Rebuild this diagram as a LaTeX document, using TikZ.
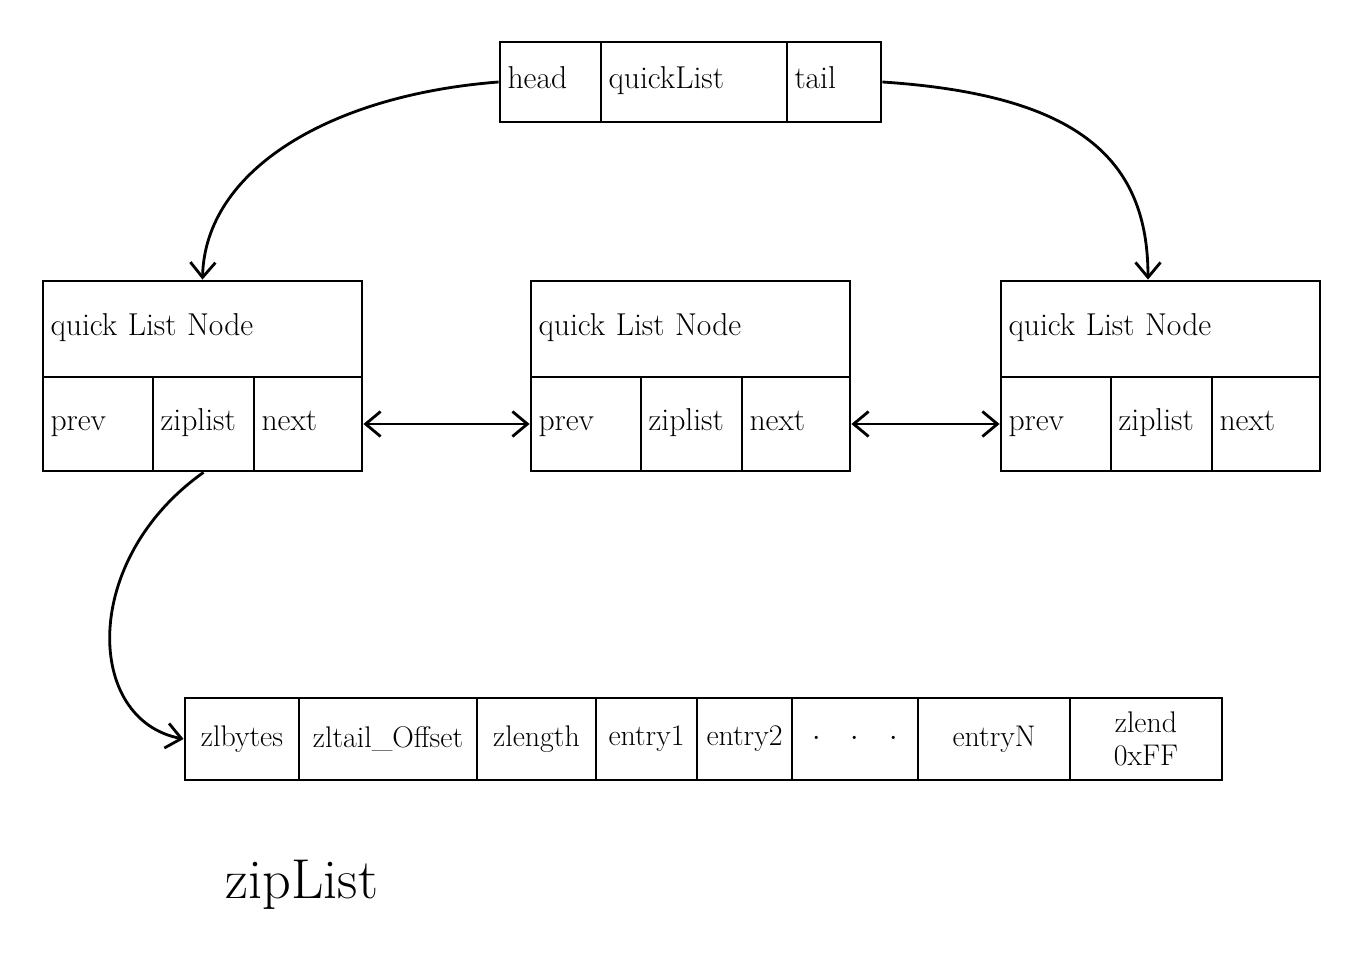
\documentclass[tikz,border=0pt]{standalone}
\usetikzlibrary{arrows.meta}
\newcommand{\strokew}{1.6pt}
\newcommand{\rowh}{1.88cm}
\tikzset{
  cell/.style={draw, line width=\strokew, text width=#1, align=left, inner xsep=0.15cm, text height=2.1ex, text depth=0.4ex, font=\fontsize{18}{20}\selectfont},
  zcell/.style={draw, line width=\strokew, text width=#1, align=center, inner xsep=0.05cm, minimum height=1.64cm, font=\fontsize{17}{19}\selectfont},
  link/.style={line width=\strokew, -{Straight Barb[length=3mm,width=5mm]}},
  dlink/.style={line width=\strokew, {Straight Barb[length=3mm,width=5mm]}-{Straight Barb[length=3mm,width=5mm]}}
}
\begin{document}
\begin{tikzpicture}
\useasboundingbox (0,0) rectangle (27.36,19.04);
%quickList
\node[cell=1.72cm, minimum height=1.6cm] (head) at (11.01,17.4) {head};
\node[cell=3.42cm, minimum height=1.6cm] (ql) at (13.88,17.4) {quickList};
\node[cell=1.58cm, minimum height=1.6cm] (tail) at (16.68,17.4) {tail};
%quickListNode 1
\node[cell=6.08cm, minimum height=1.92cm] (qn1) at (4.05,12.46) {quick List Node};
\node[cell=1.9cm, minimum height=\rowh] (prev1) at (1.96,10.56) {prev};
\node[cell=1.72cm, minimum height=\rowh] (zl1) at (4.07,10.56) {ziplist};
\node[cell=1.86cm, minimum height=\rowh] (next1) at (6.16,10.56) {next};
%quickListNode 2
\node[cell=6.08cm, minimum height=1.92cm] (qn2) at (13.81,12.46) {quick List Node};
\node[cell=1.9cm, minimum height=\rowh] (prev2) at (11.72,10.56) {prev};
\node[cell=1.72cm, minimum height=\rowh] (zl2) at (13.83,10.56) {ziplist};
\node[cell=1.86cm, minimum height=\rowh] (next2) at (15.92,10.56) {next};
%quickListNode 3
\node[cell=6.08cm, minimum height=1.92cm] (qn3) at (23.21,12.46) {quick List Node};
\node[cell=1.9cm, minimum height=\rowh] (prev3) at (21.12,10.56) {prev};
\node[cell=1.72cm, minimum height=\rowh] (zl3) at (23.23,10.56) {ziplist};
\node[cell=1.86cm, minimum height=\rowh] (next3) at (25.32,10.56) {next};
%zipList
\node[zcell=2.18cm] (zb) at (4.84,4.26) {zlbytes};
\node[zcell=3.46cm] (zt) at (7.76,4.26) {zltail\_Offset};
\node[zcell=2.28cm] (zlen) at (10.73,4.26) {zlength};
\node[zcell=1.92cm] (e1) at (12.93,4.26) {entry1};
\node[zcell=1.80cm] (e2) at (14.89,4.26) {entry2};
\node[zcell=2.42cm] (edots) at (17.10,4.26) {$\cdot$\quad$\cdot$\quad$\cdot$};
\node[zcell=2.94cm] (en) at (19.88,4.26) {entryN};
\node[zcell=2.94cm] (zend) at (22.92,4.26) {zlend\\0xFF};
\node[font=\fontsize{32}{36}\selectfont] (ziplabel) at (6.04,1.34) {zipList};
%links
\draw[link] (head.west) .. controls (6.6,17.14) and (4.1,15.64) .. (qn1.north);
\draw[link] (tail.east) .. controls (21.6,17.14) and (22.96,15.84) .. ([xshift=-0.25cm]qn3.north);
\draw[dlink] (next1.east) -- (prev2.west);
\draw[dlink] (next2.east) -- (prev3.west);
\draw[link] (zl1.south) .. controls (1.6,7.84) and (1.7,4.64) .. (zb.west);
\end{tikzpicture}
\end{document}
